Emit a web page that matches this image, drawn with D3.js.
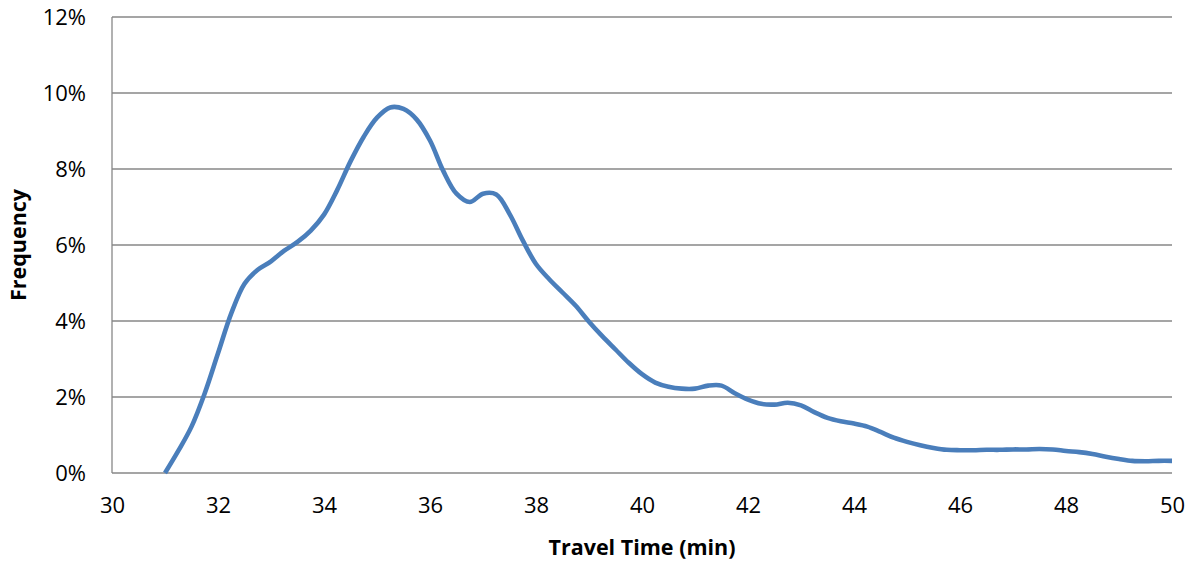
<!DOCTYPE html>
<html>
<head>
<meta charset="utf-8">
<script src="https://cdn.jsdelivr.net/npm/d3@7"></script>
<style>
  html, body { margin: 0; padding: 0; background: #ffffff; }
  svg { display: block; }
</style>
</head>
<body>
<svg id="chart" width="1196" height="564"></svg>
<script>
// Travel time (min) sample positions
const travelTime = [
  31.00, 31.25, 31.50, 31.75, 32.00, 32.25, 32.50, 32.75, 33.00, 33.25,
  33.50, 33.75, 34.00, 34.25, 34.50, 34.75, 35.00, 35.25, 35.50, 35.75,
  36.00, 36.25, 36.50, 36.75, 37.00, 37.25, 37.50, 37.75, 38.00, 38.25,
  38.50, 38.75, 39.00, 39.25, 39.50, 39.75, 40.00, 40.25, 40.50, 40.75,
  41.00, 41.25, 41.50, 41.75, 42.00, 42.25, 42.50, 42.75, 43.00, 43.25,
  43.50, 43.75, 44.00, 44.25, 44.50, 44.75, 45.00, 45.25, 45.50, 45.75,
  46.00, 46.25, 46.50, 46.75, 47.00, 47.25, 47.50, 47.75, 48.00, 48.25,
  48.50, 48.75, 49.00, 49.25, 49.50, 49.75, 50.00
];
// Frequency (%)
const frequency = [
  0.00, 0.58, 1.22, 2.10, 3.15, 4.20, 4.98, 5.35, 5.57, 5.85,
  6.08, 6.38, 6.80, 7.45, 8.20, 8.85, 9.35, 9.62, 9.58, 9.30,
  8.75, 7.95, 7.35, 7.13, 7.35, 7.33, 6.82, 6.12, 5.50, 5.10,
  4.75, 4.40, 3.98, 3.60, 3.25, 2.90, 2.60, 2.38, 2.27, 2.22,
  2.22, 2.30, 2.30, 2.10, 1.93, 1.82, 1.80, 1.85, 1.78, 1.60,
  1.45, 1.36, 1.30, 1.22, 1.08, 0.93, 0.82, 0.73, 0.66, 0.61,
  0.60, 0.60, 0.61, 0.61, 0.62, 0.62, 0.63, 0.62, 0.58, 0.55,
  0.50, 0.43, 0.37, 0.32, 0.31, 0.32, 0.32
];
const xTicks = [30, 32, 34, 36, 38, 40, 42, 44, 46, 48, 50];
const yTicks = [0, 2, 4, 6, 8, 10, 12];
const xTitle = "Travel Time (min)";
const yTitle = "Frequency";

const svg = d3.select("#chart");
const plotLeft = 112, plotRight = 1172, plotTop = 17, plotBottom = 473;
const font = "'Open Sans', 'Noto Sans', sans-serif";

const x = d3.scaleLinear().domain([30, 50]).range([plotLeft, plotRight]);
const y = d3.scaleLinear().domain([0, 12]).range([plotBottom, plotTop]);

// gridlines
svg.append("g")
  .selectAll("line")
  .data(yTicks)
  .join("line")
  .attr("x1", plotLeft).attr("x2", plotRight)
  .attr("y1", d => y(d)).attr("y2", d => y(d))
  .attr("stroke", "#878787").attr("stroke-width", 1.3);

// left axis line
svg.append("line")
  .attr("x1", plotLeft).attr("x2", plotLeft)
  .attr("y1", plotTop).attr("y2", plotBottom)
  .attr("stroke", "#878787").attr("stroke-width", 1.3);

// y axis labels
const yAxis = svg.append("g")
  .attr("transform", `translate(${plotLeft},0)`)
  .call(d3.axisLeft(y).tickValues(yTicks).tickFormat(d => d + "%").tickSize(0).tickPadding(26));
yAxis.select(".domain").remove();
yAxis.selectAll("text")
  .attr("font-family", font).attr("font-size", 22).attr("fill", "#000");

// x axis labels
const xAxis = svg.append("g")
  .attr("transform", `translate(0,${plotBottom})`)
  .call(d3.axisBottom(x).tickValues(xTicks).tickFormat(d3.format("d")).tickSize(0).tickPadding(24));
xAxis.select(".domain").remove();
xAxis.selectAll("text")
  .attr("font-family", font).attr("font-size", 22).attr("fill", "#000");

// line
const line = d3.line()
  .x((d, i) => x(travelTime[i]))
  .y(d => y(d))
  .curve(d3.curveCatmullRom.alpha(0.5));

svg.append("path")
  .datum(frequency)
  .attr("d", line)
  .attr("fill", "none")
  .attr("stroke", "#4a7ebb")
  .attr("stroke-width", 4.6)
  .attr("stroke-linejoin", "round");

// axis titles
svg.append("text")
  .attr("x", (plotLeft + plotRight) / 2).attr("y", 555)
  .attr("text-anchor", "middle")
  .attr("font-family", font).attr("font-weight", "bold").attr("font-size", 21.5)
  .attr("fill", "#000")
  .text(xTitle);

svg.append("text")
  .attr("transform", `translate(26,${(plotTop + plotBottom) / 2}) rotate(-90)`)
  .attr("text-anchor", "middle")
  .attr("font-family", font).attr("font-weight", "bold").attr("font-size", 21.5)
  .attr("fill", "#000")
  .text(yTitle);
</script>
</body>
</html>
